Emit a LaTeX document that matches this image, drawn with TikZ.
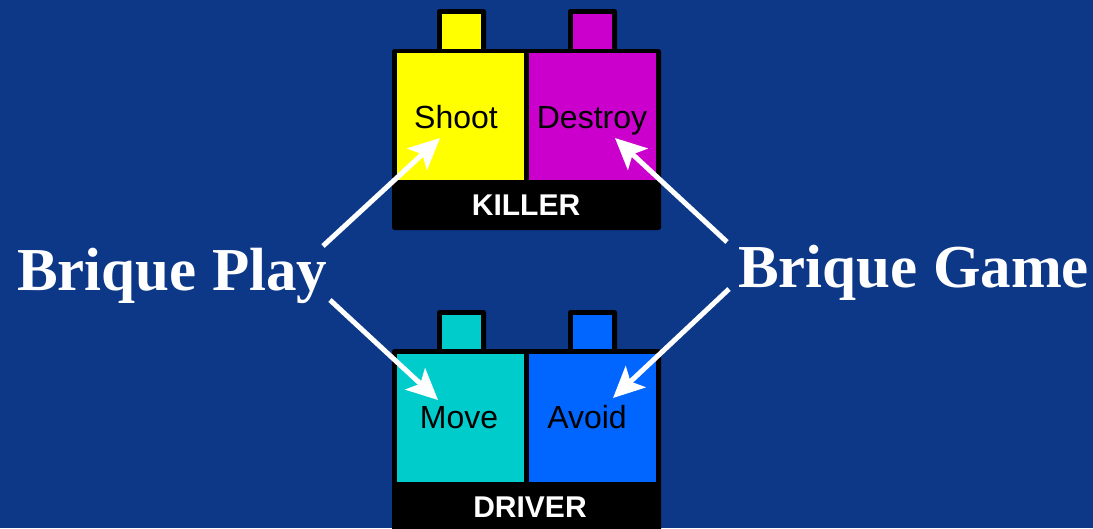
\documentclass[tikz,border=0pt]{standalone}
\usepackage{fontspec}
\setmainfont{Liberation Serif}
\setsansfont{Liberation Sans}
\usetikzlibrary{arrows.meta}
\definecolor{bg}{RGB}{13,56,135}
\definecolor{cyell}{RGB}{255,255,0}
\definecolor{cmag}{RGB}{204,0,204}
\definecolor{ccyan}{RGB}{0,204,204}
\definecolor{cblue}{RGB}{0,102,255}
\tikzset{
  blk/.style={fill=black,rounded corners=2.5pt},
  lbl/.style={font=\sffamily\fontsize{32}{36}\selectfont,text=black,anchor=base,inner sep=0pt},
  barlbl/.style={font=\sffamily\bfseries\fontsize{30}{34}\selectfont,text=white,anchor=base,inner sep=0pt},
  big/.style={font=\rmfamily\bfseries\fontsize{61}{66}\selectfont,text=white,anchor=base west,inner sep=0pt},
  arr/.style={draw=white,line width=5pt,-{Stealth[length=31pt,width=29pt,inset=7pt]}}
}
\begin{document}
\begin{tikzpicture}[x=1pt,y=-1pt]
\useasboundingbox (0,0) rectangle (1093,528);
\clip (0,0) rectangle (1093,528);
\fill[bg] (0,0) rectangle (1093,528);
% KILLER block
\fill[blk] (437,9) rectangle (486,52);
\fill[blk] (568,9) rectangle (617,52);
\fill[cyell] (442,14) rectangle (481,49);
\fill[cmag] (573,14) rectangle (612,49);
\fill[blk] (392,49) rectangle (661,230);
\fill[cyell] (397,53) rectangle (524,180);
\fill[cmag] (529,53) rectangle (656,180);
% DRIVER block
\fill[blk] (437,310) rectangle (486,353);
\fill[blk] (568,310) rectangle (617,353);
\fill[ccyan] (442,315) rectangle (481,350);
\fill[cblue] (573,315) rectangle (612,350);
\fill[blk] (392,349) rectangle (661,540);
\fill[ccyan] (397,354) rectangle (524,482);
\fill[cblue] (529,354) rectangle (656,482);
% labels
\node[lbl] (shoot) at (456,128) {Shoot};
\node[lbl] (destroy) at (592,128) {Destroy};
\node[barlbl] (killer) at (526,215) {KILLER};
\node[lbl] (move) at (459,428) {Move};
\node[lbl] (avoid) at (587,428) {Avoid};
\node[barlbl] (driver) at (530,517) {DRIVER};
\node[big] (play) at (17,290) {Brique Play};
\node[big] (game) at (738,287) {Brique Game};
% arrow ends
\coordinate (p1) at (323,246);
\coordinate (p2) at (330,300);
\coordinate (g1) at (727,242);
\coordinate (g2) at (729,289);
\coordinate (tshoot) at (440,138);
\coordinate (tmove) at (438,400);
\coordinate (tdestroy) at (615,138);
\coordinate (tavoid) at (613,398);
\draw[arr] (p1) -- (tshoot);
\draw[arr] (p2) -- (tmove);
\draw[arr] (g1) -- (tdestroy);
\draw[arr] (g2) -- (tavoid);
\end{tikzpicture}
\end{document}
